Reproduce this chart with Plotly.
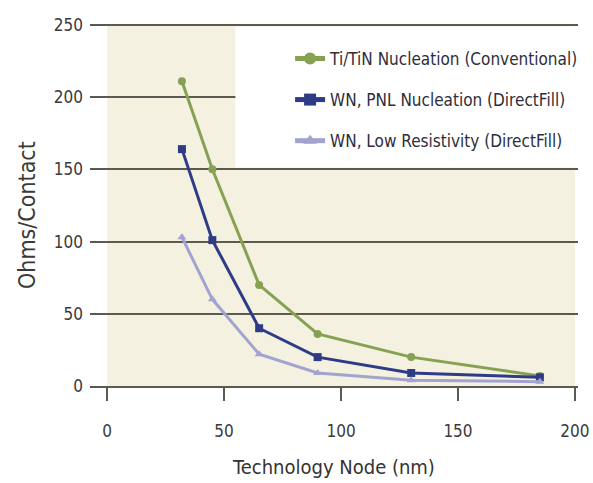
import plotly.graph_objects as go

nodes = [32, 45, 65, 90, 130, 185]
titin = [211, 150, 70, 36, 20, 7]
wn_pnl = [164, 101, 40, 20, 9, 6]
wn_low = [103, 60, 22, 9, 4, 3]

names = ["Ti/TiN Nucleation (Conventional)",
         "WN, PNL Nucleation (DirectFill)",
         "WN, Low Resistivity (DirectFill)"]
colors = ["#86a152", "#2e3c88", "#a3a3cf"]
symbols = ["circle", "square", "triangle-up"]
series = [titin, wn_pnl, wn_low]

FONT = "DejaVu Sans Condensed, DejaVu Sans, sans-serif"

fig = go.Figure()
for i, (nm, vals) in enumerate(zip(names, series)):
    fig.add_trace(go.Scatter(
        x=nodes, y=vals, name=nm, mode="lines+markers",
        line=dict(color=colors[i], width=3),
        marker=dict(symbol=symbols[i], size=8, color=colors[i]),
        legendgroup=f"g{i}",
    ))

# beige plot background
fig.add_shape(type="rect", xref="x", yref="y", x0=0, x1=200, y0=0, y1=250,
              fillcolor="#f4f1e0", line=dict(width=0), layer="below")
# white legend panel
fig.add_shape(type="rect", xref="paper", yref="y", x0=0.298, x1=1.04, y0=151.2, y1=248.8,
              fillcolor="white", line=dict(width=0), layer="above")

fig.add_annotation(text="Ohms/Contact", textangle=-90, xref="paper", yref="paper",
                   x=-0.129, y=0.47, xanchor="center", yanchor="middle",
                   showarrow=False, font=dict(size=23, color="#3a3a3a"))

fig.update_layout(
    width=593, height=483,
    margin=dict(l=90, r=9, t=22, b=97),
    paper_bgcolor="white", plot_bgcolor="white",
    font=dict(family=FONT, color="#3a3a3a", size=17),
    showlegend=True,
    legend=dict(x=0.41, y=0.948, xanchor="left", yanchor="top",
                bgcolor="rgba(0,0,0,0)", font=dict(size=17, color="#2e2e3a"),
                tracegroupgap=16, itemsizing="constant"),
    xaxis=dict(range=[-7.3, 201.3], tickvals=[0, 50, 100, 150, 200],
               showgrid=False, zeroline=False, showline=True,
               linecolor="#5a5a50", linewidth=2, automargin=False,
               ticks="outside", ticklen=13, tickwidth=2, tickcolor="#5a5a50",
               ticklabelstandoff=16,
               title=dict(text="Technology Node (nm)", font=dict(size=20, color="#333333"), standoff=20),
               tickfont=dict(size=17)),
    yaxis=dict(range=[0, 252], tickvals=[0, 50, 100, 150, 200, 250],
               showgrid=True, gridcolor="#5a5a50", gridwidth=2, automargin=False,
               zeroline=False, showline=False, ticks="", ticklabelstandoff=6,
               tickfont=dict(size=17)),
)

fig.write_html("out.html", config={"displayModeBar": False},
               post_script="document.body.style.margin='0px';")
